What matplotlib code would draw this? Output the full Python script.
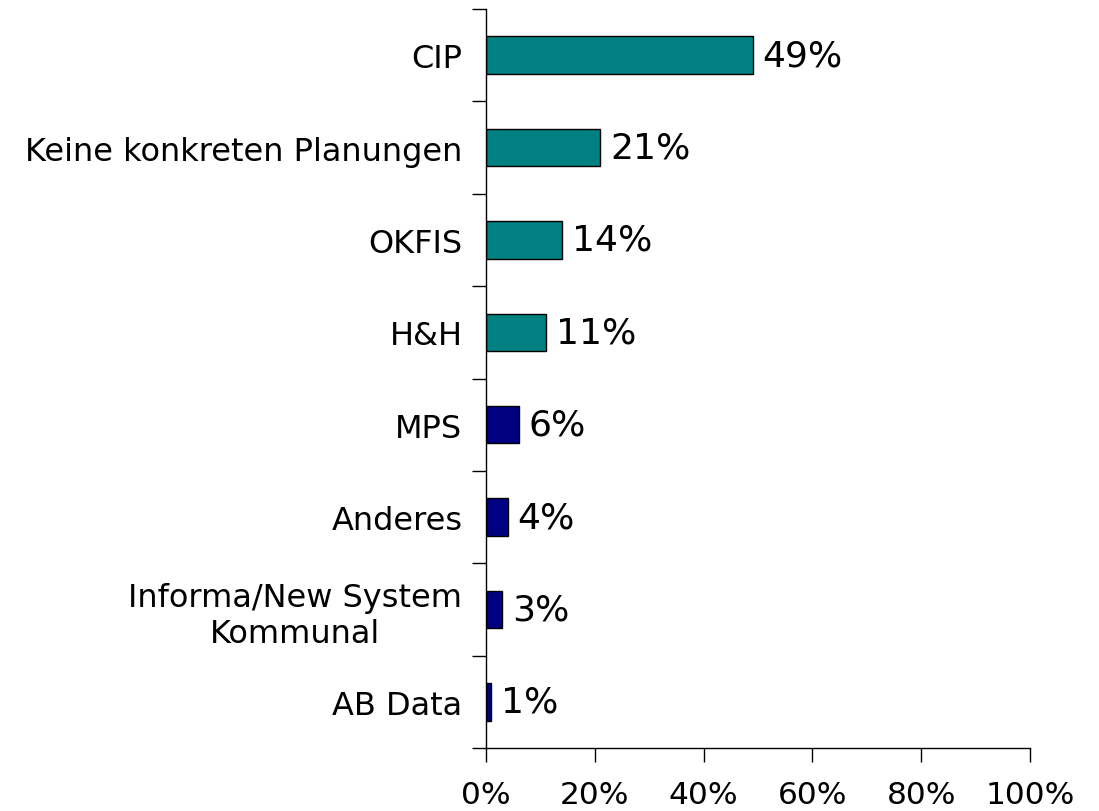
import matplotlib
matplotlib.use("Agg")
import matplotlib.pyplot as plt
import numpy as np

categories = ["CIP", "Keine konkreten Planungen", "OKFIS", "H&H", "MPS",
              "Anderes", "Informa/New System\nKommunal", "AB Data"]
values = [49, 21, 14, 11, 6, 4, 3, 1]
colors = ["#008080"] * 4 + ["#000080"] * 4
xticks = [0, 20, 40, 60, 80, 100]

plt.rcParams['font.family'] = ['DejaVu Sans']
fig = plt.figure(figsize=(10.99, 8.12), dpi=100)
ax = fig.add_axes([486/1099, 63/812, 544/1099, 739/812])

n = len(categories)
ypos = np.arange(n)
ax.barh(ypos, values, height=0.405, color=colors, edgecolor="black", linewidth=1.0)
ax.set_ylim(n - 0.5, -0.5)
ax.set_xlim(0, 100)

ax.set_yticks(ypos)
ax.set_yticklabels(categories, fontsize=23)
for t in ax.get_yticklabels():
    t.set_multialignment("center")
    t.set_linespacing(1.2)
ax.tick_params(axis="y", which="major", length=0, pad=17)
ax.set_yticks(np.arange(n + 1) - 0.5, minor=True)
ax.tick_params(axis="y", which="minor", length=10, width=1.0, direction="out")

ax.set_xticks(xticks)
ax.set_xticklabels([f"{v}%" for v in xticks], fontsize=22.5)
ax.tick_params(axis="x", length=10, width=1.0, direction="out", pad=13)

for s in ["top", "right"]:
    ax.spines[s].set_visible(False)
for s in ["left", "bottom"]:
    ax.spines[s].set_linewidth(1.0)

for y, v in zip(ypos, values):
    ax.text(v + 1.8, y, f"{v}%", va="center", ha="left", fontsize=26)

fig.savefig("out.png", dpi=100)
